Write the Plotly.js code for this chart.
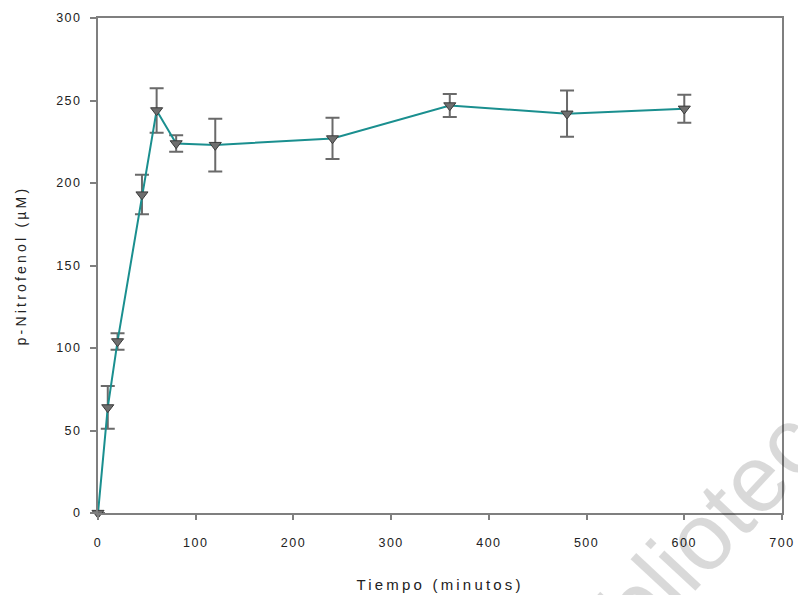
<!DOCTYPE html>
<html>
<head>
<meta charset="utf-8">
<script src="https://cdn.plot.ly/plotly-3.0.1.min.js"></script>
<style>
  html, body { margin: 0; padding: 0; background: #fff; }
  #chart { width: 798px; height: 595px; }
  .xtick text, .ytick text { letter-spacing: 1.5px; }
  g.annotation[data-index="0"] text, g.annotation[data-index="1"] text { letter-spacing: 3.2px; }
</style>
</head>
<body>
<div id="chart"></div>
<script>
// Sampling times (minutes)
const tiempo = [0, 10, 20, 45, 60, 80, 120, 240, 360, 480, 600];
// p-Nitrofenol concentration (µM)
const nitrofenol = [0, 64, 104, 193, 244, 224, 223, 227, 247, 242, 245];
// Standard deviation of each measurement
const desviacion = [0, 13, 5, 12, 13.5, 5, 16, 12.5, 7, 14, 8.5];

const xTicks = [0, 100, 200, 300, 400, 500, 600, 700];
const yTicks = [0, 50, 100, 150, 200, 250, 300];

const axisColor = '#7f7f7f';
const tickFont = { family: 'Liberation Sans, Arial, sans-serif', size: 12.5, color: '#222' };

const trace = {
  x: tiempo,
  y: nitrofenol,
  type: 'scatter',
  mode: 'lines+markers',
  line: { color: '#1a8f8f', width: 2 },
  marker: {
    symbol: 'triangle-down',
    size: 10.5,
    color: '#6e6e6e',
    line: { color: '#3a3a3a', width: 1 }
  },
  error_y: {
    type: 'data',
    array: desviacion,
    visible: true,
    color: '#6a6a6a',
    thickness: 2,
    width: 7
  },
  cliponaxis: false,
  showlegend: false
};

const layout = {
  width: 798,
  height: 595,
  margin: { l: 98, r: 16, t: 18, b: 82 },
  paper_bgcolor: '#fff',
  plot_bgcolor: '#fff',
  xaxis: {
    range: [0, 700],
    tickvals: xTicks,
    ticktext: xTicks.map(String),
    ticks: 'outside',
    ticklen: 5,
    tickwidth: 2,
    tickcolor: axisColor,
    showline: true,
    linecolor: axisColor,
    linewidth: 2,
    mirror: true,
    showgrid: false,
    zeroline: false,
    tickfont: tickFont,
    ticklabelstandoff: 12
  },
  yaxis: {
    range: [0, 300],
    tickvals: yTicks,
    ticktext: yTicks.map(String),
    ticks: 'outside',
    ticklen: 6,
    tickwidth: 2,
    tickcolor: axisColor,
    showline: true,
    linecolor: axisColor,
    linewidth: 2,
    mirror: true,
    showgrid: false,
    zeroline: false,
    tickfont: tickFont,
    ticklabelstandoff: 6
  },
  annotations: [
    {
      text: 'Tiempo (minutos)',
      xref: 'paper', yref: 'paper',
      x: 0.5, y: -0.145,
      xanchor: 'center', yanchor: 'middle',
      showarrow: false,
      font: { family: 'Liberation Sans, Arial, sans-serif', size: 15, color: '#222' }
    },
    {
      text: 'p-Nitrofenol (µM)',
      xref: 'paper', yref: 'paper',
      x: -0.113, y: 0.5,
      xanchor: 'center', yanchor: 'middle',
      textangle: -90,
      showarrow: false,
      font: { family: 'Liberation Sans, Arial, sans-serif', size: 14, color: '#222' }
    },
    {
      text: 'Biblioteca',
      xref: 'paper', yref: 'paper',
      x: 0.879, y: -0.05,
      xanchor: 'center', yanchor: 'middle',
      textangle: -47,
      showarrow: false,
      font: { family: 'Liberation Sans, Arial, sans-serif', size: 95, color: 'rgba(0,0,0,0.15)' }
    }
  ]
};

Plotly.newPlot('chart', [trace], layout, { displayModeBar: false, staticPlot: true });
</script>
</body>
</html>
